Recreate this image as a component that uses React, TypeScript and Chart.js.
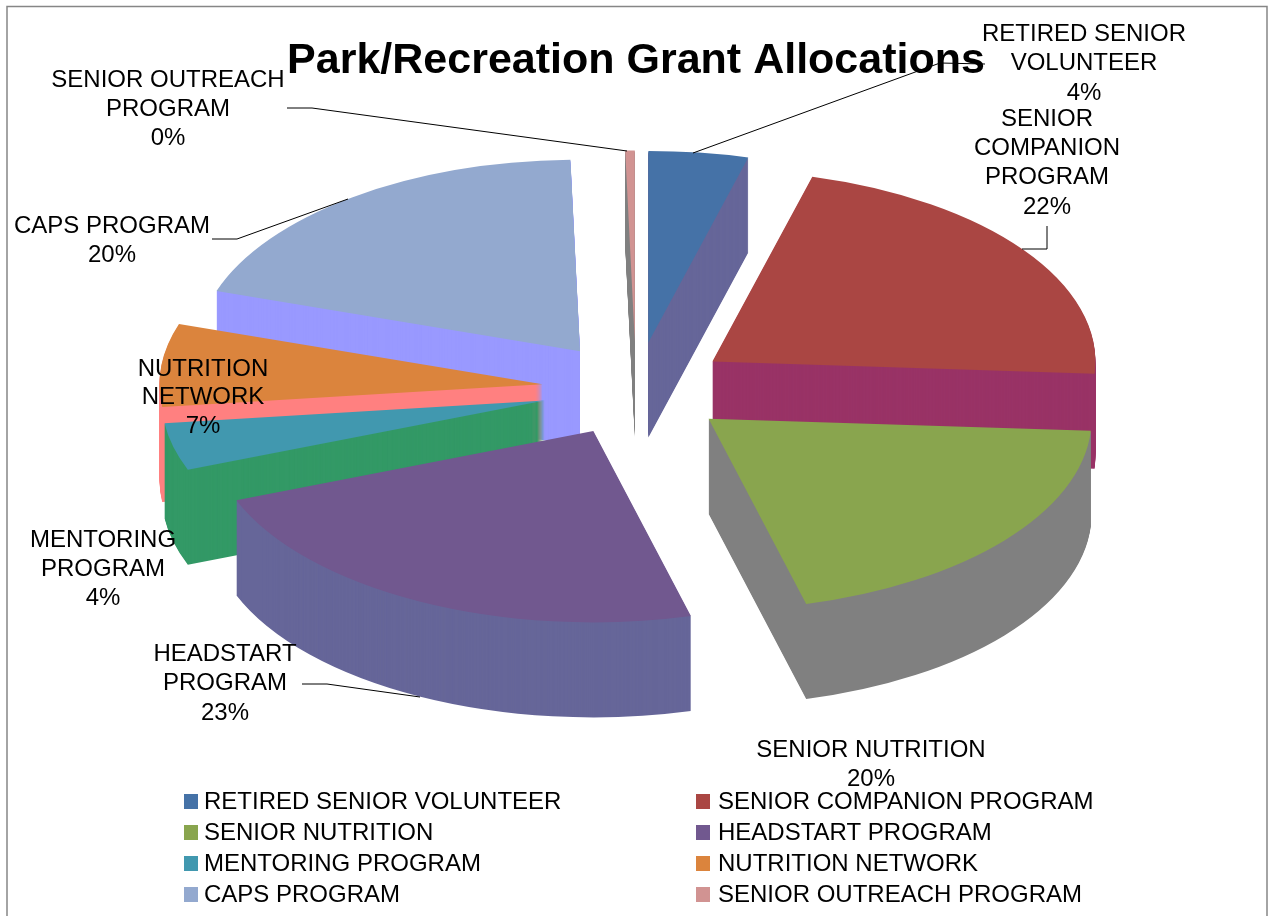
import React, { useEffect, useRef } from "react";
import { Chart, registerables } from "chart.js";

Chart.register(...registerables);

const TITLE = "Park/Recreation Grant Allocations";
const categories = [
  "RETIRED SENIOR VOLUNTEER",
  "SENIOR COMPANION PROGRAM",
  "SENIOR NUTRITION",
  "HEADSTART PROGRAM",
  "MENTORING PROGRAM",
  "NUTRITION NETWORK",
  "CAPS PROGRAM",
  "SENIOR OUTREACH PROGRAM",
];
const shares = [4.2, 21.8, 19.9, 23.2, 4, 7, 19.5, 0.4];
const topColors = ["#4572A7", "#AA4643", "#89A54E", "#71588F", "#4198AF", "#DB843D", "#93A9CF", "#D19392"];
const wallColors = ["#666699", "#993366", "#808080", "#666699", "#339966", "#FF8080", "#9999FF", "#808080"];

// Label wrapping, as in the reference
const labelLines = [
  ["RETIRED SENIOR", "VOLUNTEER"],
  ["SENIOR", "COMPANION", "PROGRAM"],
  ["SENIOR NUTRITION"],
  ["HEADSTART", "PROGRAM"],
  ["MENTORING", "PROGRAM"],
  ["NUTRITION", "NETWORK"],
  ["CAPS PROGRAM"],
  ["SENIOR OUTREACH", "PROGRAM"],
];

// Layout only: [centre x, first line y, line height]
const labelAnchors = [
  [1084, 34, 29.5],
  [1047, 119, 29.3],
  [871, 750, 29],
  [225, 654, 29.5],
  [103, 540, 29],
  [203, 369, 28.5],
  [112, 226, 29],
  [168, 80, 29],
];
const leaders = [
  [[693, 153], [940, 63], [985, 64]],
  [[1047, 226], [1047, 249], [1022, 249]],
  [[302, 684], [327, 684], [420, 697]],
  [[348, 199], [237, 239], [212, 239]],
  [[627, 151], [312, 108], [287, 108]],
];

const FONT = '"Liberation Sans", Arial, sans-serif';
const SQUASH = 0.5;
const DEPTH = 95;
const EXPLODE = 94;
const RADIUS = 383;

const pie3d = {
  id: "pie3d",
  beforeDraw(chart: any) {
    const { ctx, width, height } = chart;
    ctx.save();
    ctx.fillStyle = "#ffffff";
    ctx.fillRect(0, 0, width, height);
    ctx.strokeStyle = "#868686";
    ctx.lineWidth = 1.5;
    ctx.strokeRect(7, 6.5, 1260, height + 20);
    ctx.restore();
  },
  beforeDatasetsDraw(chart: any) {
    const { ctx } = chart;
    const arcs: any[] = chart.getDatasetMeta(0).data;
    const cx = arcs[0].x;
    const cy = arcs[0].y;
    const order = arcs
      .map((arc, i) => ({ arc, i, mid: (arc.startAngle + arc.endAngle) / 2 }))
      .sort((a, b) => Math.sin(a.mid) - Math.sin(b.mid));
    const paint = (arc: any, mid: number, shift: number, color: string) => {
      const saved = arc.options;
      arc.options = { ...saved, backgroundColor: color, borderWidth: 0 };
      ctx.save();
      ctx.translate(cx, cy + shift);
      ctx.scale(1, SQUASH);
      ctx.translate(-cx + Math.cos(mid) * EXPLODE, -cy + Math.sin(mid) * EXPLODE);
      arc.draw(ctx);
      ctx.restore();
      arc.options = saved;
    };
    for (const { arc, i, mid } of order) {
      for (let s = DEPTH; s > 0; s--) paint(arc, mid, s, wallColors[i]);
      paint(arc, mid, 0, topColors[i]);
    }
    return false;
  },
  afterDraw(chart: any) {
    const { ctx } = chart;
    ctx.save();
    // leader lines
    ctx.strokeStyle = "#000000";
    ctx.lineWidth = 1;
    for (const path of leaders) {
      ctx.beginPath();
      path.forEach(([x, y], k) => (k ? ctx.lineTo(x, y) : ctx.moveTo(x, y)));
      ctx.stroke();
    }
    // data labels
    ctx.fillStyle = "#000000";
    ctx.font = `24px ${FONT}`;
    ctx.textAlign = "center";
    ctx.textBaseline = "middle";
    categories.forEach((_, i) => {
      const [x, y, lh] = labelAnchors[i];
      const lines = [...labelLines[i], `${Math.round(shares[i])}%`];
      lines.forEach((t, k) => ctx.fillText(t, x, y + k * lh));
    });
    // legend
    ctx.textAlign = "left";
    categories.forEach((name, i) => {
      const col = i % 2;
      const row = Math.floor(i / 2);
      const y = 802 + row * 31;
      const sx = col ? 696 : 184;
      ctx.fillStyle = topColors[i];
      ctx.fillRect(sx, y - 8, 14, 15);
      ctx.fillStyle = "#000000";
      ctx.fillText(name, col ? 718 : 204, y);
    });
    ctx.restore();
  },
};

export default function App() {
  const ref = useRef<HTMLCanvasElement>(null);
  useEffect(() => {
    const chart = new Chart(ref.current!, {
      type: "pie",
      data: {
        labels: categories,
        datasets: [
          {
            data: shares,
            backgroundColor: topColors,
            borderWidth: 0,
          } as any,
        ],
      },
      options: {
        responsive: false,
        animation: false,
        radius: RADIUS,
        layout: { padding: { left: 4, bottom: 224.6 } },
        plugins: {
          legend: { display: false },
          tooltip: { enabled: false },
          title: {
            display: true,
            text: TITLE,
            color: "#000000",
            font: { family: FONT, size: 43, weight: "bold", lineHeight: 1.2 },
            padding: { top: 35, bottom: 0 },
          },
        },
      } as any,
      plugins: [pie3d as any],
    });
    return () => chart.destroy();
  }, []);
  return (
    <div style={{ position: "fixed", left: 0, top: 0, width: 1268, height: 916 }}>
      <canvas ref={ref} width={1268} height={916} style={{ display: "block" }} />
    </div>
  );
}
